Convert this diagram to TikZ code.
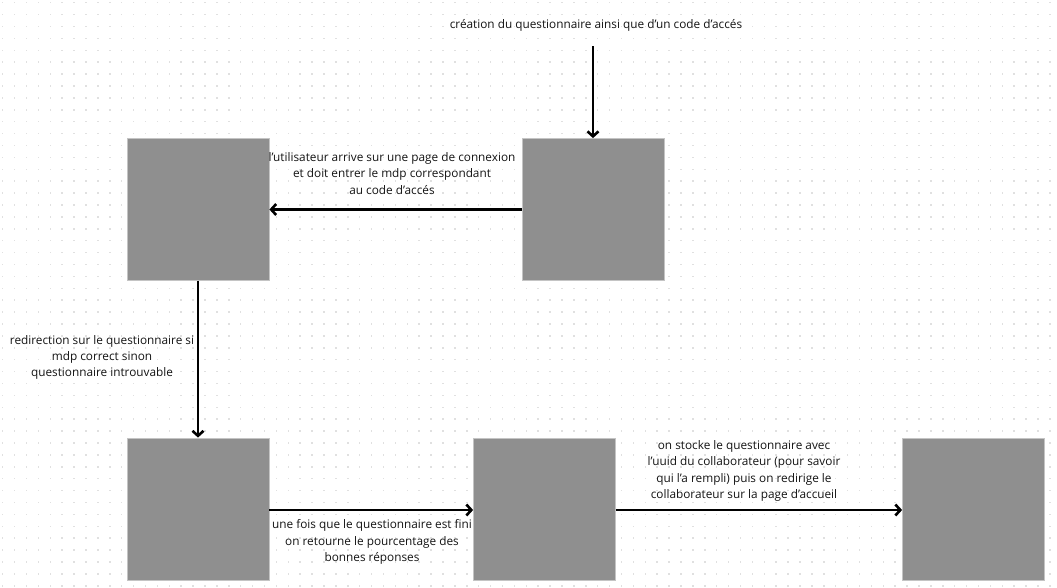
\documentclass[tikz,border=0pt]{standalone}
\usepackage{fontspec}
\setmainfont{Open Sans}
\usetikzlibrary{arrows.meta}
\definecolor{boxgray}{HTML}{8F8F8F}
\definecolor{boxedge}{HTML}{C4C4C4}
\definecolor{dotgray}{HTML}{E0E0E0}
\definecolor{txt}{HTML}{141414}
\tikzset{
  stage/.style={rectangle, fill=boxgray, draw=boxedge, line width=0.8pt, minimum width=142pt, minimum height=142pt, inner sep=0pt},
  flow/.style={line width=2.8pt, -{Straight Barb[length=5pt,width=11pt,line width=2.6pt]}},
  lbl/.style={text=txt, align=center, inner sep=0pt, font=\fontsize{11.8}{16.4}\selectfont}
}
\begin{document}
\begin{tikzpicture}[x=1pt,y=-1pt]
\useasboundingbox (0,0) rectangle (1057,587);
\fill[white] (0,0) rectangle (1057,587);
\foreach \i in {0,...,88} {
  \foreach \j in {0,...,49} {
    \fill[dotgray] ({2.7+11.9*\i-0.75},{2.7+11.9*\j-0.75}) rectangle ++(1.5,1.5);
  }
}
\node[stage] (A) at (593,209.5) {};
\node[stage] (B) at (198,209.5) {};
\node[stage] (C) at (198,509) {};
\node[stage] (D) at (544.5,509) {};
\node[stage] (E) at (973.5,509) {};
\coordinate (S) at (593,46);
\draw[flow] (S) -- (A.north);
\draw[flow] (A.west) -- (B.east);
\draw[flow] (B.south) -- (C.north);
\draw[flow] ([yshift=-1pt]C.east) -- ([yshift=-1pt]D.west);
\draw[flow] ([yshift=-1pt]D.east) -- ([yshift=-1pt]E.west);
\node[lbl] (t1) at (596,25) {création du questionnaire ainsi que d’un code d’accés};
\node[lbl] (t2) at (392,173.5) {l’utilisateur arrive sur une page de connexion\\et doit entrer le mdp correspondant\\au code d’accés};
\node[lbl] (t3) at (102,357.5) {redirection sur le questionnaire si\\mdp correct sinon\\questionnaire introuvable};
\node[lbl] (t4) at (372,542) {une fois que le questionnaire est fini\\on retourne le pourcentage des\\bonnes réponses};
\node[lbl] (t5) at (744,471) {on stocke le questionnaire avec\\l’uuid du collaborateur (pour savoir\\qui l’a rempli) puis on redirige le\\collaborateur sur la page d’accueil};
\end{tikzpicture}
\end{document}
